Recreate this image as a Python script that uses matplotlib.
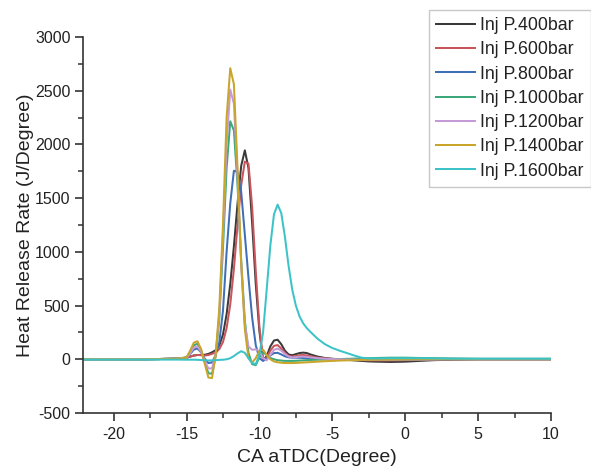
import matplotlib
matplotlib.use("Agg")
import matplotlib.pyplot as plt
from matplotlib.ticker import MultipleLocator

# ---------------- data ----------------
ca = [-22, -20, -18, -17, -16, -15.5,
      -15, -14.75, -14.5, -14.25, -14, -13.75, -13.5, -13.25, -13,
      -12.75, -12.5, -12.25, -12, -11.75, -11.5, -11.25, -11,
      -10.75, -10.5, -10.25, -10, -9.75, -9.5, -9.25, -9, -8.75, -8.5, -8.25, -8,
      -7.75, -7.5, -7.25, -7, -6.75, -6.5,
      -6, -5.5, -5, -4.5, -4, -3.5, -3, -2.5, -2,
      -1, 0, 1, 2, 3, 5, 7, 10]

hrr_400 = [0, 0, 0, 2, 5, 10,
           15, 25, 35, 40, 40, 42, 50, 65, 85,
           130, 230, 420, 700, 1050, 1450, 1800, 1945,
           1780, 1270, 700, 260, -10, 30, 120, 175, 182, 140, 80, 45,
           38, 48, 58, 62, 58, 45,
           25, 12, 5, 0, -5, -10, -15, -20, -22,
           -25, -22, -15, -8, -5, 0, 0, 0]

hrr_600 = [0, 0, 0, 2, 5, 10,
           15, 25, 35, 40, 38, 35, 40, 50, 65,
           95, 160, 290, 510, 840, 1250, 1620, 1840,
           1820, 1420, 820, 300, 0, 15, 80, 125, 132, 100, 60, 32,
           25, 30, 38, 40, 36, 28,
           15, 8, 3, 0, -3, -6, -8, -10, -10,
           -10, -8, -5, -3, 0, 0, 0, 0]

hrr_800 = [0, 0, 0, 2, 5, 8,
           15, 50, 90, 100, 65, 5, -35, -30, 40,
           160, 450, 1000, 1450, 1755, 1745, 1560, 1160,
           760, 390, 130, 10, -15, 5, 35, 58, 60, 45, 28, 18,
           15, 15, 14, 12, 10, 8,
           5, 3, 0, -2, -3, -4, -5, -5, -5,
           -5, -4, -3, -2, 0, 0, 0, 0]

hrr_1000 = [0, 0, 0, 2, 5, 8,
            15, 70, 130, 145, 85, -30, -130, -135, 30,
            380, 1030, 1780, 2215, 2130, 1620, 920, 360,
            60, -45, -55, 20, 65, 40, 12, 0, -8, -12, -15, -15,
            -15, -14, -12, -10, -8, -6,
            -4, -2, 0, 2, 4, 6, 8, 10, 12,
            15, 15, 12, 10, 8, 5, 5, 5]

hrr_1200 = [0, 0, 0, 2, 5, 8,
            12, 55, 110, 120, 70, -15, -85, -85, 50,
            420, 1150, 2000, 2510, 2380, 1700, 880, 320,
            120, 88, 92, 75, 10, -10, 40, 88, 100, 80, 50, 25,
            18, 20, 24, 25, 22, 18,
            10, 5, 2, 0, -2, -3, -4, -4, -4,
            -4, -3, -2, -1, 0, 0, 0, 0]

hrr_1400 = [0, 0, 0, 2, 5, 8,
            15, 80, 155, 168, 95, -40, -170, -175, 40,
            480, 1250, 2250, 2710, 2560, 1780, 900, 280,
            10, -30, 10, 80, 90, 40, 0, -20, -28, -32, -35, -35,
            -35, -34, -32, -30, -28, -26,
            -22, -18, -15, -12, -10, -8, -6, -5, -4,
            -3, -2, -1, 0, 0, 0, 0, 0]

hrr_1600 = [-3, -3, -3, -3, -3, -3,
            -4, -4, -4, -5, -7, -9, -11, -10, -8,
            -6, -4, 0, 10, 30, 55, 75, 60,
            10, -35, -45, 40, 250, 650, 1060, 1350, 1440, 1360, 1140, 870,
            650, 500, 400, 335, 290, 255,
            190, 140, 105, 80, 58, 35, 15, 8, 8,
            10, 10, 10, 8, 6, 5, 5, 5]

labels = ["Inj P.400bar", "Inj P.600bar", "Inj P.800bar", "Inj P.1000bar",
          "Inj P.1200bar", "Inj P.1400bar", "Inj P.1600bar"]
series = [hrr_400, hrr_600, hrr_800, hrr_1000, hrr_1200, hrr_1400, hrr_1600]
colors = ["#3a3a3a", "#c8555a", "#3f6fb5", "#3aa87a", "#c69ad6", "#c9a52a", "#3cc3c8"]

xticks = [-20, -15, -10, -5, 0, 5, 10]
yticks = [-500, 0, 500, 1000, 1500, 2000, 2500, 3000]

# ---------------- figure ----------------
plt.rcParams['font.family'] = ['Liberation Sans', 'DejaVu Sans']
plt.rcParams['axes.unicode_minus'] = False

W, H = 591, 468
fig = plt.figure(figsize=(W / 100, H / 100), dpi=100)
ax = fig.add_axes([83 / W, 1 - 413 / H, (551 - 83) / W, (413 - 37) / H])

for y, lab, c in zip(series, labels, colors):
    ax.plot(ca, y, color=c, lw=1.45, label=lab)

ax.set_xlim(-22.1, 10)
ax.set_ylim(-500, 3000)
ax.set_xticks(xticks)
ax.set_yticks(yticks)
ax.xaxis.set_minor_locator(MultipleLocator(2.5))
ax.yaxis.set_minor_locator(MultipleLocator(250))

for s in ['top', 'right']:
    ax.spines[s].set_visible(False)
for s in ['left', 'bottom']:
    ax.spines[s].set_color('#333333')
    ax.spines[s].set_linewidth(1.2)

ax.tick_params(which='major', direction='out', length=6, width=1.2,
               color='#333333', labelsize=11.5, labelcolor='#222222')
ax.tick_params(which='minor', direction='out', length=3.5, width=1.1, color='#333333')
ax.tick_params(axis='x', which='major', pad=4)
ax.tick_params(axis='y', which='major', pad=3)

ax.set_xlabel("CA aTDC(Degree)", fontsize=14, color='#222222', labelpad=5)
ax.set_ylabel("Heat Release Rate (J/Degree)", fontsize=14, color='#222222', labelpad=1)

leg = ax.legend(loc='upper left', bbox_to_anchor=(429 / W, 1 - 10 / H),
                bbox_transform=fig.transFigure, borderaxespad=0,
                fontsize=12.8, frameon=True, fancybox=False,
                handlelength=2.2, handletextpad=0.3, labelspacing=0.41,
                borderpad=0.39)
leg.get_frame().set_edgecolor('#bbbbbb')
leg.get_frame().set_linewidth(1.0)
for t in leg.get_texts():
    t.set_color('#222222')

fig.savefig("out.png", dpi=100)
